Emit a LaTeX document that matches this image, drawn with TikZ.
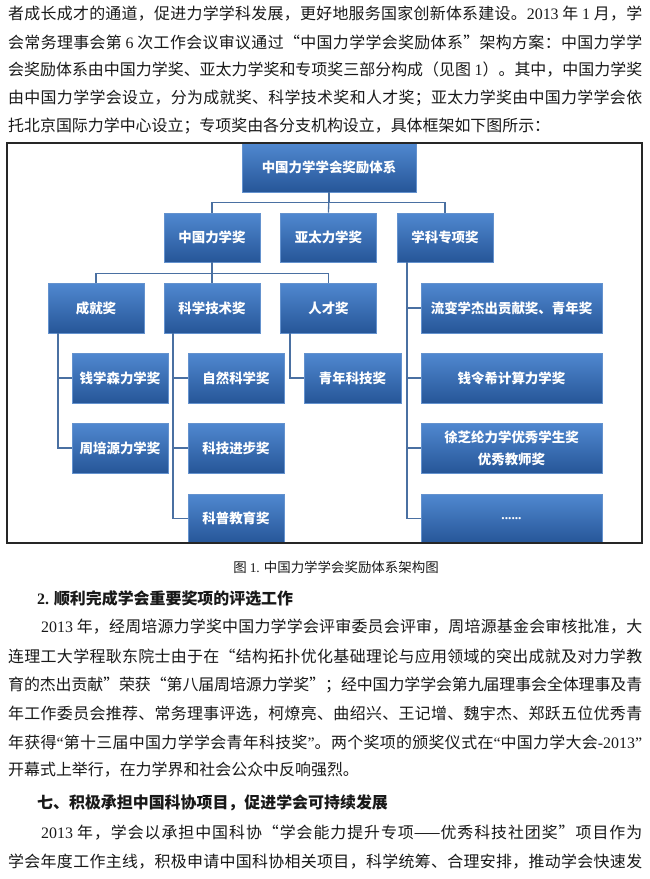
\documentclass[tikz,border=0pt]{standalone}
\usepackage{fontspec}
\setmainfont{Liberation Serif}
\newfontfamily\cjk{Noto Sans CJK SC}
\newfontfamily\latin{Liberation Serif}
\newcommand\nm[1]{{\latin #1}}
% a justified line: stretch the glue between the characters
\newcommand\jl[2][634bp]{\hbox to #1{#2}}
\newcommand\cg{\nobreak\hskip 0pt plus 3pt minus .6pt\relax}
% character classes: 1 ideographs, 2 opening, 3 closing punctuation
\count255="4E00
\loop \XeTeXcharclass\count255=1 \advance\count255 by 1 \ifnum\count255<"A000 \repeat
\XeTeXcharclass"201C=2
\XeTeXcharclass"FF08=2
\XeTeXcharclass"201D=3
\XeTeXcharclass"3001=3
\XeTeXcharclass"3002=3
\XeTeXcharclass"FF0C=3
\XeTeXcharclass"FF1A=3
\XeTeXcharclass"FF1B=3
\XeTeXcharclass"FF09=3
\XeTeXinterchartokenstate=1
\XeTeXinterchartoks 1 1 = {\cg}
\XeTeXinterchartoks 1 2 = {\cg}
\XeTeXinterchartoks 1 3 = {\cg}
\XeTeXinterchartoks 2 1 = {\cg}
\XeTeXinterchartoks 3 1 = {\cg}
\XeTeXinterchartoks 3 2 = {\cg}
\XeTeXinterchartoks 3 3 = {\cg}
\usetikzlibrary{positioning}
\definecolor{boxtop}{RGB}{80,136,208}
\definecolor{boxbot}{RGB}{38,86,152}
\definecolor{boxline}{RGB}{100,146,206}
\definecolor{linkc}{RGB}{74,112,162}
\definecolor{ink}{RGB}{25,25,25}

\begin{document}
\begin{tikzpicture}[x=1bp,y=-1bp,
    award/.style={draw=boxline, line width=.6bp, top color=boxtop, bottom color=boxbot,
      text=white, font=\cjk\bfseries\fontsize{13.5}{22}\selectfont,
      minimum width=96bp, minimum height=50bp, inner sep=0pt, align=center},
    wide/.style={award, minimum width=181bp},
    link/.style={draw=linkc, line width=1.3bp},
    body/.style={anchor=west, inner sep=0pt, text=ink, font=\cjk\fontsize{16}{20}\selectfont},
    head/.style={body, font=\cjk\bfseries\fontsize{16}{20}\selectfont}]
  \useasboundingbox[fill=white] (0,0) rectangle (650,879);

  % text above the figure
  \node[body] (t1) at (8,14) {\jl{者成长成才的通道，促进力学学科发展，更好地服务国家创新体系建设。\nm{2013} 年 \nm{1} 月，学}};
  \node[body] (t2) at (8,42) {\jl{会常务理事会第 \nm{6} 次工作会议审议通过“中国力学学会奖励体系”架构方案：中国力学学}};
  \node[body] (t3) at (8,70) {\jl{会奖励体系由中国力学奖、亚太力学奖和专项奖三部分构成（见图 \nm{1}）。其中，中国力学奖}};
  \node[body] (t4) at (8,98) {\jl{由中国力学学会设立，分为成就奖、科学技术奖和人才奖；亚太力学奖由中国力学学会依}};
  \node[body] (t5) at (8,126) {托北京国际力学中心设立；专项奖由各分支机构设立，具体框架如下图所示：};

  % the chart
  \node[award, minimum width=174bp, minimum height=49bp] (root) at (329,167.5) {中国力学学会奖励体系};
  \node[award, minimum height=49bp] (zgj) at (212,237.5) {中国力学奖};
  \node[award, minimum height=49bp] (ytj) at (328.5,237.5) {亚太力学奖};
  \node[award, minimum height=49bp] (xkj) at (445,237.5) {学科专项奖};

  \node[award] (cjj) at (96,308) {成就奖};
  \node[award] (kxj) at (212,308) {科学技术奖};
  \node[award] (rcj) at (328.5,308) {人才奖};

  \node[award] (qxs) at (120,378) {钱学森力学奖};
  \node[award] (zpy) at (120,448) {周培源力学奖};
  \node[award] (zrkx) at (236,378) {自然科学奖};
  \node[award] (kjjb) at (236,448) {科技进步奖};
  \node[award, minimum height=49bp] (kpjy) at (236,518.5) {科普教育奖};
  \node[award, minimum width=97bp] (qnkj) at (352.5,378) {青年科技奖};

  \node[wide] (lbx) at (511.5,308) {流变学杰出贡献奖、青年奖};
  \node[wide] (qlx) at (511.5,378) {钱令希计算力学奖};
  \node[wide] (xzl) at (511.5,448) {徐芝纶力学优秀学生奖\\优秀教师奖};
  \node[wide, minimum height=49bp] (more) at (511.5,518.5) {\nm{......}};

  \draw[link] (root.south) -- ++(0,10) -| (zgj.north);
  \draw[link] (root.south) -- ++(0,10) -| (xkj.north);
  \draw[link] (root.south) -- (ytj.north);
  \draw[link] (zgj.south) -- ++(0,11) -| (cjj.north);
  \draw[link] (zgj.south) -- ++(0,11) -| (rcj.north);
  \draw[link] (zgj.south) -- (kxj.north);
  \foreach \n in {qxs,zpy}
    \draw[link] ([xshift=-38bp]cjj.south) |- (\n.west);
  \foreach \n in {zrkx,kjjb,kpjy}
    \draw[link] ([xshift=-39bp]kxj.south) |- (\n.west);
  \draw[link] ([xshift=-38.5bp]rcj.south) |- (qnkj.west);
  \foreach \n in {lbx,qlx,xzl,more}
    \draw[link] ([xshift=-38bp]xkj.south) |- (\n.west);

  \draw[draw=black!85, line width=1.2bp] (7,143) rectangle (642,543);

  % text below the figure
  \node[body, anchor=center, font=\cjk\fontsize{13.5}{16}\selectfont] (cap) at (336,567) {图 \nm{1.} 中国力学学会奖励体系架构图};
  \node[head] (h2) at (37,598) {\nm{\bfseries 2.} 顺利完成学会重要奖项的评选工作};
  \node[body] (p1) at (41,627) {\jl[601bp]{\nm{2013} 年，经周培源力学奖中国力学学会评审委员会评审，周培源基金会审核批准，大}};
  \node[body] (p2) at (8,656) {\jl{连理工大学程耿东院士由于在“结构拓扑优化基础理论与应用领域的突出成就及对力学教}};
  \node[body] (p3) at (8,685) {\jl{育的杰出贡献”荣获“第八届周培源力学奖”；经中国力学学会第九届理事会全体理事及青}};
  \node[body] (p4) at (8,714) {\jl{年工作委员会推荐、常务理事评选，柯燎亮、曲绍兴、王记增、魏宇杰、郑跃五位优秀青}};
  \node[body] (p5) at (8,742) {\jl{年获得\nm{“}第十三届中国力学学会青年科技奖\nm{”}。两个奖项的颁奖仪式在\nm{“}中国力学大会\nm{-2013”}}};
  \node[body] (p6) at (8,770) {开幕式上举行，在力学界和社会公众中反响强烈。};
  \node[head] (h7) at (37,803) {七、积极承担中国科协项目，促进学会可持续发展};
  \node[body] (q1) at (41,833) {\jl[601bp]{\nm{2013} 年，学会以承担中国科协“学会能力提升专项——优秀科技社团奖”项目作为}};
  \node[body] (q2) at (8,862) {\jl{学会年度工作主线，积极申请中国科协相关项目，科学统筹、合理安排，推动学会快速发}};
\end{tikzpicture}
\end{document}
